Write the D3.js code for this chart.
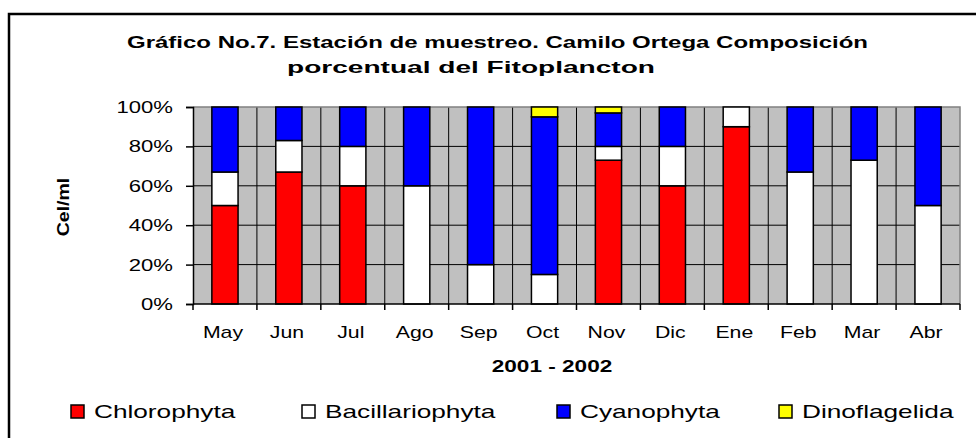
<!DOCTYPE html>
<html><head><meta charset="utf-8">
<script src="https://cdn.jsdelivr.net/npm/d3@7"></script>
<style>body{margin:0;background:#fff}svg{display:block}text{font-family:"Liberation Sans",Arial,sans-serif;fill:#000}</style>
</head><body><svg id="c" width="976" height="438"></svg>
<script>
const months = ["May","Jun","Jul","Ago","Sep","Oct","Nov","Dic","Ene","Feb","Mar","Abr"];
const chlorophyta     = [50,67,60, 0, 0, 0,73,60,90, 0, 0, 0];
const bacillariophyta = [17,16,20,60,20,15, 7,20,10,67,73,50];
const cyanophyta      = [33,17,20,40,80,80,17,20, 0,33,27,50];
const dinoflagelida   = [ 0, 0, 0, 0, 0, 5, 3, 0, 0, 0, 0, 0];
const seriesNames = ["Chlorophyta","Bacillariophyta","Cyanophyta","Dinoflagelida"];
const seriesColors = ["#FF0000","#FFFFFF","#0000FF","#FFFF00"];
const yTicks = [0,20,40,60,80,100];
const titleLines = ["Gráfico No.7. Estación de muestreo. Camilo Ortega Composición","porcentual del Fitoplancton"];
const xTitle = "2001 - 2002", yTitle = "Cel/ml";

const svg = d3.select("#c");
const L=193, R=960, T=107, B=304;
// frame
svg.append("rect").attr("x",9).attr("y",14).attr("width",980).attr("height",440)
  .attr("fill","none").attr("stroke","#000").attr("stroke-width",2.5);

const rows = months.map((m,i)=>({m, v:[chlorophyta[i],bacillariophyta[i],cyanophyta[i],dinoflagelida[i]]}));
const stack = d3.stack().keys([0,1,2,3]).value((d,k)=>d.v[k])(rows);

const x = d3.scaleBand().domain(months).range([L,R]).paddingInner(0).paddingOuter(0);
const y = d3.scaleLinear().domain([0,100]).range([B,T]);

svg.append("rect").attr("x",L).attr("y",T).attr("width",R-L).attr("height",B-T).attr("fill","#C0C0C0");
// horizontal grid
svg.append("g").selectAll("line").data(yTicks.filter(t=>t>0&&t<100)).join("line")
  .attr("x1",L).attr("x2",R).attr("y1",d=>y(d)).attr("y2",d=>y(d)).attr("stroke","#000").attr("stroke-width",1);
// vertical grid
svg.append("g").selectAll("line").data(months.slice(1)).join("line")
  .attr("x1",d=>x(d)).attr("x2",d=>x(d)).attr("y1",T).attr("y2",B).attr("stroke","#000").attr("stroke-width",1);
// plot border top/right gray
svg.append("path").attr("d",`M${L},${T}H${R}V${B}`).attr("fill","none").attr("stroke","#808080").attr("stroke-width",1.5);

const bw = x.bandwidth()*0.41;
stack.forEach((s,k)=>{
  svg.append("g").selectAll("rect").data(s.filter(d=>d[1]-d[0]>0)).join("rect")
    .attr("x",d=>x(d.data.m)+x.bandwidth()/2-bw/2).attr("width",bw)
    .attr("y",d=>y(d[1])).attr("height",d=>y(d[0])-y(d[1]))
    .attr("fill",seriesColors[k]).attr("stroke","#000").attr("stroke-width",1.5);
});

// axes
const yAxis = svg.append("g").attr("transform",`translate(${L},0)`)
  .call(d3.axisLeft(y).tickValues(yTicks).tickSize(7).tickFormat(()=>""));
const xAxis = svg.append("g").attr("transform",`translate(0,${B})`)
  .call(d3.axisBottom(x).tickSize(0).tickFormat(()=>""));
[yAxis,xAxis].forEach(a=>{a.select(".domain").attr("stroke","#000").attr("stroke-width",1.5);a.selectAll("line").attr("stroke","#000").attr("stroke-width",1.5);});
xAxis.select(".domain").attr("d",`M${L},0H${R}`);
svg.append("g").selectAll("line").data(months.map(m=>x(m)).concat([R])).join("line")
  .attr("x1",d=>d).attr("x2",d=>d).attr("y1",B).attr("y2",B+6).attr("stroke","#000").attr("stroke-width",1.5);

function stext(px,py,str,size,sx,anchor,weight,rot){
  return svg.append("text").attr("transform",`translate(${px},${py})${rot?` rotate(${rot})`:""} scale(${sx},1)`)
    .attr("font-size",size).attr("text-anchor",anchor||"start").attr("font-weight",weight||"normal").text(str);
}
yTicks.forEach(t=>stext(173,y(t)+6,t+"%",17,1.3,"end"));
months.forEach(m=>stext(x(m)+x.bandwidth()/2-2,338,m,17,1.25,"middle"));
stext(552,372,xTitle,17,1.33,"middle","bold");
stext(69,207,yTitle,17,1.15,"middle","bold",-90);

// title
svg.append("text").attr("x",127).attr("y",48).attr("font-size",17).attr("font-weight","bold")
  .attr("textLength",741).attr("lengthAdjust","spacingAndGlyphs").text(titleLines[0]);
svg.append("text").attr("x",287).attr("y",73).attr("font-size",17).attr("font-weight","bold")
  .attr("textLength",368).attr("lengthAdjust","spacingAndGlyphs").text(titleLines[1]);

// legend
const legX = [71,302,557,779];
seriesNames.forEach((n,i)=>{
  svg.append("rect").attr("x",legX[i]).attr("y",405).attr("width",13).attr("height",13)
    .attr("fill",seriesColors[i]).attr("stroke","#000").attr("stroke-width",1.5);
  stext(legX[i]+23,418,n,19,1.38,"start");
});
</script></body></html>
